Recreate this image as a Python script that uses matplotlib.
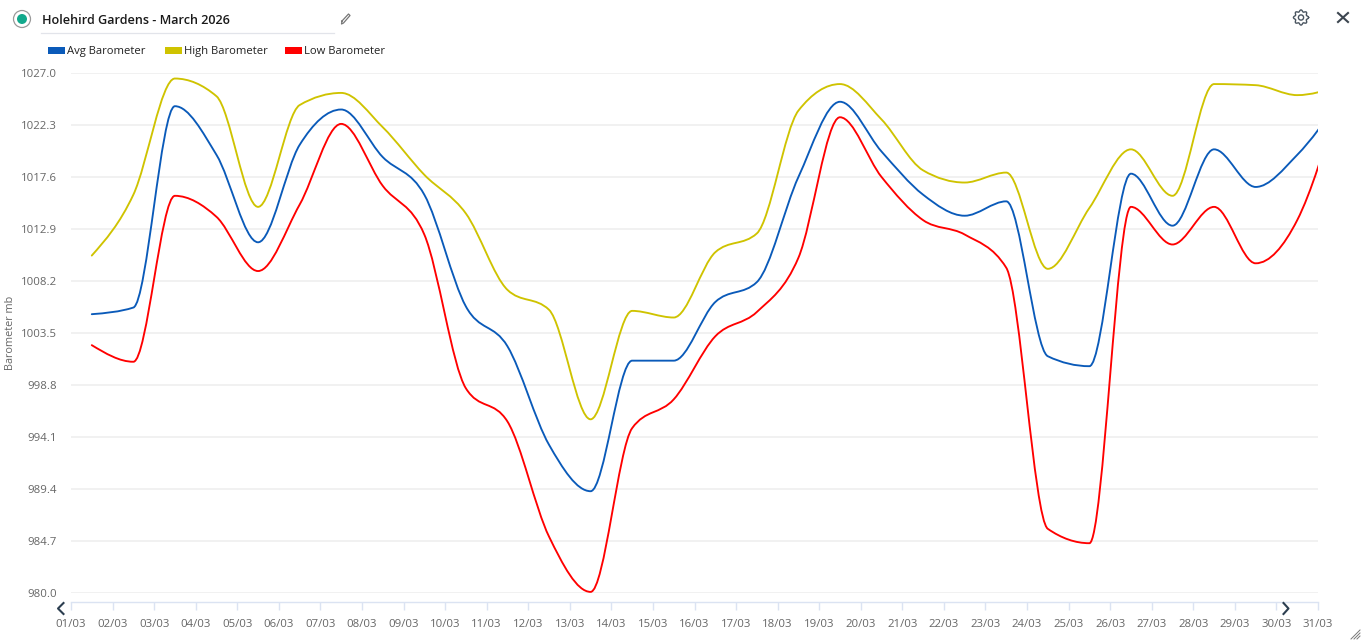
import numpy as np
import matplotlib
matplotlib.use('Agg')
import matplotlib.pyplot as plt
from matplotlib.patches import Circle, PathPatch, Rectangle
from matplotlib.path import Path

plt.rcParams['font.family'] = ['Open Sans', 'DejaVu Sans']

# Daily barometer readings, one per day of March, plotted at midday
days = ['%02d/03' % d for d in range(1, 32)]
avg_baro = [1005.2, 1005.8, 1024.0, 1019.6, 1011.7, 1020.5, 1023.7, 1019.4, 1016.0, 1005.9, 1002.3,
            993.4, 989.2, 1001.0, 1001.0, 1006.3, 1008.1, 1017.6, 1024.4, 1019.9, 1016.0, 1014.1,
            1015.4, 1001.4, 1000.5, 1017.9, 1013.2, 1020.1, 1016.7, 1019.6, 1024.4]
high_baro = [1010.5, 1016.0, 1026.5, 1024.9, 1014.9, 1024.1, 1025.2, 1022.1, 1017.8, 1014.3, 1007.4,
             1005.6, 995.7, 1005.5, 1004.9, 1010.8, 1012.5, 1023.6, 1026.0, 1022.8, 1018.2, 1017.1,
             1018.0, 1009.3, 1014.8, 1020.1, 1015.9, 1026.0, 1025.9, 1025.0, 1025.8]
low_baro = [1002.4, 1000.9, 1015.9, 1014.0, 1009.1, 1015.1, 1022.4, 1016.8, 1012.4, 998.5, 995.5,
            985.1, 980.1, 994.9, 997.5, 1003.2, 1005.4, 1010.3, 1023.0, 1017.6, 1013.7, 1012.4,
            1009.4, 985.8, 984.5, 1014.9, 1011.5, 1014.9, 1009.8, 1013.7, 1024.5]
y_ticks = [980.0, 984.7, 989.4, 994.1, 998.8, 1003.5, 1008.2, 1012.9, 1017.6, 1022.3, 1027.0]

series = [('Avg Barometer', avg_baro, '#0a5ab9'),
          ('High Barometer', high_baro, '#cfc300'),
          ('Low Barometer', low_baro, '#ff0000')]

W, H = 1362, 641
TEXT = '#666666'
AXIS = '#dbe3f2'


def spline_path(ys):
    # monotone cubic through the daily values, drawn as bezier segments
    ys = np.array(ys)
    xs = np.arange(len(ys)) + 0.5
    s = np.diff(ys)
    t = np.zeros(len(ys))
    for i in range(1, len(ys) - 1):
        p = (s[i - 1] + s[i]) / 2
        t[i] = (np.sign(s[i - 1]) + np.sign(s[i])) * min(abs(s[i - 1]), abs(s[i]), 0.5 * abs(p))
    t[0] = (3 * s[0] - t[1]) / 2
    t[-1] = (3 * s[-1] - t[-2]) / 2
    verts = [(xs[0], ys[0])]
    codes = [Path.MOVETO]
    for i in range(len(s)):
        verts += [(xs[i] + 1 / 3, ys[i] + t[i] / 3),
                  (xs[i + 1] - 1 / 3, ys[i + 1] - t[i + 1] / 3),
                  (xs[i + 1], ys[i + 1])]
        codes += [Path.CURVE4] * 3
    return Path(verts, codes)


fig = plt.figure(figsize=(W / 100, H / 100), dpi=100, facecolor='white')

# main chart, pixel box 71..1318 x 73..593
ax = fig.add_axes([71 / W, 1 - 593 / H, (1318 - 71) / W, (593 - 73) / H])
ax.set_xlim(0, 30)
ax.set_ylim(980, 1027)
ax.set_xticks(range(len(days)))
ax.set_xticklabels(days)
ax.set_yticks(y_ticks)
ax.set_yticklabels(['%.1f' % v for v in y_ticks])
ax.grid(axis='y', color='#eeeeee', lw=1.1)
ax.set_axisbelow(True)
for side in ['top', 'left', 'right']:
    ax.spines[side].set_visible(False)
ax.spines['bottom'].set_position(('outward', 6.5))
ax.spines['bottom'].set_color(AXIS)
ax.spines['bottom'].set_linewidth(1.0)
ax.tick_params(axis='x', length=6, width=1.0, color=AXIS, labelcolor=TEXT, labelsize=8.2, pad=6.5)
ax.tick_params(axis='y', length=0, labelcolor=TEXT, labelsize=8.2, pad=10)
ax.set_ylabel('Barometer mb', color=TEXT, fontsize=7.8)
ax.yaxis.set_label_coords((16.5 - 71) / (1318 - 71), (593 - 333) / (593 - 73))

for name, vals, col in series:
    ax.add_patch(PathPatch(spline_path(vals), fill=False, edgecolor=col, lw=1.35, capstyle='round'))

# header, legend and icons, in pixel coordinates
ov = fig.add_axes([0, 0, 1, 1], facecolor='none')
ov.set_xlim(0, W)
ov.set_ylim(H, 0)
ov.axis('off')

ov.add_patch(Circle((22, 19), 8.5, fill=False, ec='#9a9a9a', lw=0.9))
ov.add_patch(Circle((22, 19), 5, fc='#12a98c', ec='none'))
ov.text(41.5, 24, 'Holehird Gardens - March 2026', fontsize=9.05, fontweight='semibold',
        color='#1a1a1a', va='baseline', ha='left')
ov.plot([41, 334], [32.5, 32.5], color='#e2e4ea', lw=0.9)

# pencil
ov.plot([342, 348.5, 350, 343.5, 341.5, 342], [21, 14, 15.5, 23, 24, 21], color='#777777', lw=0.9)

# gear
ang = np.linspace(0, 2 * np.pi, 97)
rad = 6.7 + 0.9 * np.cos(8 * ang)
ov.plot(1301 + rad * np.cos(ang), 17.5 + rad * np.sin(ang), color='#4a5560', lw=1.0)
ov.add_patch(Circle((1301, 17.5), 2.6, fill=False, ec='#4a5560', lw=1.0))

# close button
ov.plot([1338, 1348], [13, 22], color='#3d4650', lw=1.5)
ov.plot([1348, 1338], [13, 22], color='#3d4650', lw=1.5)

# scroll arrows
ov.plot([63.5, 58, 63.5], [603, 608.5, 614], color='#2c3e50', lw=1.5)
ov.plot([1283.5, 1288.5, 1283.5], [603, 608.5, 614], color='#2c3e50', lw=1.5)

# resize grip
for d in [3, 6, 9]:
    ov.plot([1360 - d, 1360], [639, 639 - d], color='#777777', lw=0.7)

# legend
legend_x = [48, 165, 285]
for (name, vals, col), lx in zip(series, legend_x):
    ov.add_patch(Rectangle((lx, 47), 16.5, 6.5, fc=col, ec='none'))
    ov.text(lx + 19, 54, name, fontsize=8.1, color='#222222', va='baseline', ha='left')

fig.savefig('out.png', dpi=100)
